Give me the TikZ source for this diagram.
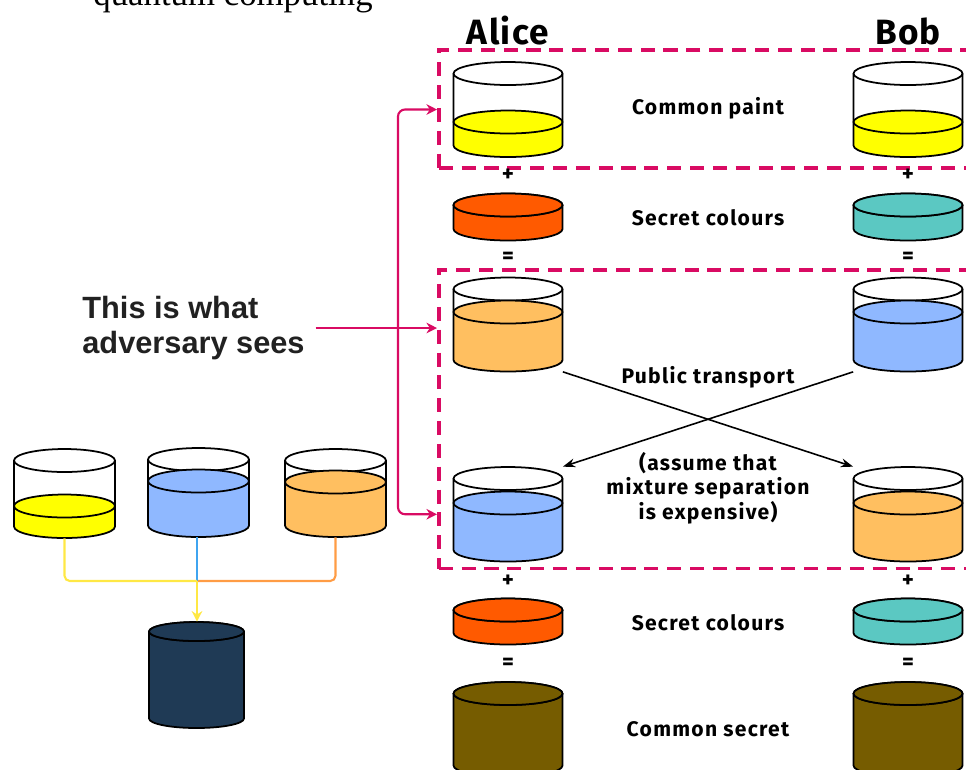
\documentclass[tikz,border=0pt]{standalone}
\usepackage{fontspec}
\setmainfont{Liberation Serif}
\newfontfamily\labelfont[LetterSpace=6]{Fira Sans}
\newfontfamily\headfont[LetterSpace=4]{Fira Sans}
\newfontfamily\advfont{Liberation Sans}
\usetikzlibrary{arrows.meta}

\definecolor{paint}{HTML}{FFFF00}
\definecolor{mixorange}{HTML}{FFBF60}
\definecolor{mixblue}{HTML}{8FB8FF}
\definecolor{secretA}{HTML}{FF5A00}
\definecolor{secretB}{HTML}{5BC8C2}
\definecolor{shared}{HTML}{765C00}
\definecolor{navy}{HTML}{1F3A55}
\definecolor{pinkred}{HTML}{D90B63}
\definecolor{lineyellow}{HTML}{FFE845}
\definecolor{lineblue}{HTML}{3FA4F0}
\definecolor{lineorange}{HTML}{FF9C45}

% 杯子: 名字, x, 顶, 底, rx, ry, 液面, 颜色
\newcommand{\glass}[8]{%
  \fill[#8] (#2-#5,#7) -- (#2-#5,#4) arc[start angle=180, end angle=0, x radius=#5, y radius=#6] -- (#2+#5,#7) -- cycle;
  \draw[glassline] (#2-#5,#3) -- (#2-#5,#4) arc[start angle=180, end angle=0, x radius=#5, y radius=#6] -- (#2+#5,#3);
  \draw[glassline] (#2,#3) ellipse [x radius=#5, y radius=#6];
  \draw[glassline, fill=#8] (#2,#7) ellipse [x radius=#5, y radius=#6];
  \node[inner sep=0, minimum width={2*#5*0.02cm}, minimum height={(#4-#3+2*#6)*0.02cm}] (#1) at ({#2},{(#3+#4)/2}) {};
}

\begin{document}
\begin{tikzpicture}[x=0.02cm, y=-0.02cm,
    glassline/.style={draw=black, line width=1pt},
    dashbox/.style={draw=pinkred, line width=2pt, dash pattern=on 8pt off 5pt, inner sep=0},
    pinkarrow/.style={draw=pinkred, line width=1.2pt, -{Stealth[length=6pt, width=6pt]}},
    cross/.style={line width=0.9pt, -{Stealth[length=7pt, width=5pt]}},
    feed/.style={line width=1.2pt, rounded corners=3pt},
    label/.style={font=\labelfont\bfseries\fontsize{12}{14}\selectfont},
    sign/.style={font=\labelfont\bfseries\fontsize{13}{15}\selectfont},
    head/.style={font=\headfont\bfseries\fontsize{20}{24}\selectfont}]

    \useasboundingbox (0,0) rectangle (966,769);

    \node[anchor=base, font=\fontsize{19.8}{22}\selectfont] (title) at (233,5.5) {quantum computing};

    % 虚线框
    \node[dashbox, minimum width=11.26cm, minimum height=2.36cm, anchor=north west] (paintbox) at (437,48) {};
    \node[dashbox, minimum width=11.26cm, minimum height=5.98cm, anchor=north west] (pubbox) at (437,268) {};

    % 标题
    \node[head] (alice) at (508,31) {Alice};
    \node[head] (bob) at (908,31) {Bob};

    % Alice 与 Bob 的杯子
    \glass{aPaint}{508}{73.5}{145.5}{54.5}{11.5}{122}{paint}
    \glass{bPaint}{908}{73.5}{145.5}{54.5}{11.5}{122}{paint}
    \glass{aSecret}{508}{205}{229}{54.5}{11.5}{205}{secretA}
    \glass{bSecret}{908}{205}{229}{54.5}{11.5}{205}{secretB}
    \glass{aMix}{508}{289}{360}{54.5}{11.5}{312}{mixorange}
    \glass{bMix}{908}{289}{360}{54.5}{11.5}{312}{mixblue}
    \glass{aBack}{508}{478.5}{550}{54.5}{11.5}{503}{mixblue}
    \glass{bBack}{908}{478.5}{550}{54.5}{11.5}{503}{mixorange}
    \glass{aSecretB}{508}{610}{633}{54.5}{11.5}{610}{secretA}
    \glass{bSecretB}{908}{610}{633}{54.5}{11.5}{610}{secretB}
    \glass{aShared}{508}{693.5}{765.5}{54.5}{11.5}{693.5}{shared}
    \glass{bShared}{908}{693.5}{765.5}{54.5}{11.5}{693.5}{shared}

    % 符号与说明
    \node[sign] (p1a) at (508,175) {+};
    \node[sign] (p1b) at (908,175) {+};
    \node[sign] (e1a) at (508,258) {=};
    \node[sign] (e1b) at (908,258) {=};
    \node[sign] (p2a) at (508,581) {+};
    \node[sign] (p2b) at (908,581) {+};
    \node[sign] (e2a) at (508,664) {=};
    \node[sign] (e2b) at (908,664) {=};
    \node[label] (common) at (708,108) {Common paint};
    \node[label] (secret1) at (708,218) {Secret colours};
    \node[label] (public) at (708,377) {Public transport};
    \node[label, align=center] (assume) at (708,488) {(assume that\\mixture separation\\is expensive)};
    \node[label] (secret2) at (708,623) {Secret colours};
    \node[label] (result) at (708,729) {Common secret};

    % 交换
    \draw[cross] (aMix.south east) -- (bBack.north west);
    \draw[cross] (bMix.south west) -- (aBack.north east);

    % 对手
    \node[anchor=west, align=left, inner ysep=0, inner xsep=6pt, text=black!87,
          font=\advfont\bfseries\fontsize{17.5}{20}\selectfont] (adv) at (71.5,328) {This is what\\adversary sees};
    \coordinate (fork) at (398,328);
    \draw[pinkarrow] (adv.east) -- (adv.east -| pubbox.west);
    \draw[pinkarrow, rounded corners=4pt] (fork) |- (aPaint -| paintbox.west);
    \draw[pinkarrow, rounded corners=4pt] (fork) |- (aBack -| pubbox.west);

    % 混合
    \glass{lYellow}{64.5}{460.5}{526.5}{50.5}{11.5}{506}{paint}
    \glass{lBlue}{198.5}{459.5}{525.5}{50.5}{11.5}{481}{mixblue}
    \glass{lOrange}{335.5}{460.5}{525.5}{50.5}{11.5}{482}{mixorange}
    \glass{dark}{196.5}{631.5}{718.5}{47.5}{9.5}{631.5}{navy}
    \coordinate (join) at (197,581);
    \draw[feed, lineorange] (lOrange.south) |- (join);
    \draw[feed, lineblue] (join |- lBlue.south) -- (join);
    \draw[feed, lineyellow] (lYellow.south) |- (join);
    \draw[feed, lineyellow, -{Stealth[length=6pt, width=6pt]}] (join) -- (join |- dark.north);
\end{tikzpicture}
\end{document}
